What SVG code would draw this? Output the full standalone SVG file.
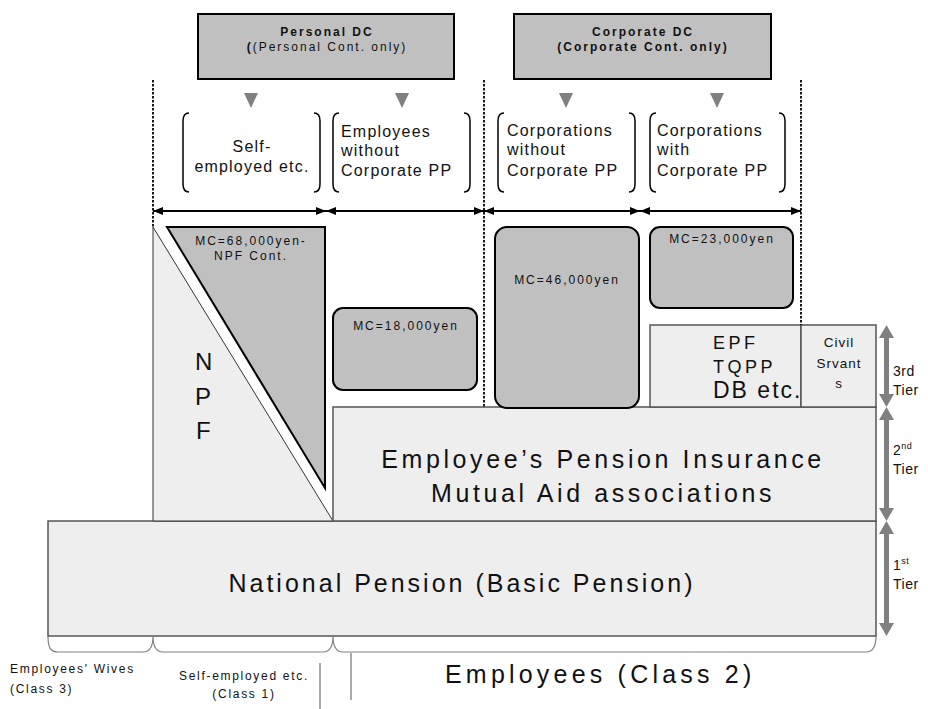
<svg xmlns="http://www.w3.org/2000/svg" width="928" height="709" viewBox="0 0 928 709">
<style>
text{font-family:"Liberation Sans",Arial,sans-serif;fill:#111}
.top{font-size:12px;letter-spacing:2px;text-anchor:middle}
.b{font-weight:bold}
.grp{font-size:16px;letter-spacing:1.2px}
.mc{font-size:12px;letter-spacing:2px;text-anchor:middle}
.big{font-size:25px;letter-spacing:3.6px;text-anchor:middle}
.small{font-size:12px;letter-spacing:1.7px}
.tier{font-size:14px;letter-spacing:0.5px}
.dark{fill:#c0c0c0;stroke:#000;stroke-width:2}
.light{fill:#eeeeee;stroke:#555;stroke-width:1.5}
.paren{fill:none;stroke:#000;stroke-width:1.5}
.dash{fill:none;stroke:#000;stroke-width:1.8;stroke-dasharray:2.5 1.5}
.harr{stroke:#000;stroke-width:2;marker-start:url(#ah);marker-end:url(#ah)}
.gray{fill:#808080}
</style>
<defs>
<marker id="ah" viewBox="0 0 10 10" refX="10" refY="5" markerWidth="10" markerHeight="10" markerUnits="userSpaceOnUse" orient="auto-start-reverse">
<path d="M0,1 L10,5 L0,9 Z" fill="#000"/>
</marker>
</defs>
<rect width="928" height="709" fill="#fff"/>

<g id="personal-dc">
<rect x="198" y="14" width="256" height="65" fill="#c0c0c0" stroke="#000" stroke-width="2"/>
<text class="top b" x="327" y="36">Personal DC</text>
<text class="top" x="327" y="51"><tspan font-weight="bold">(</tspan>(Personal Cont. only)</text>
</g>
<g id="corporate-dc">
<rect x="514" y="14" width="257" height="65" fill="#c0c0c0" stroke="#000" stroke-width="2"/>
<text class="top b" x="643" y="36">Corporate DC</text>
<text class="top b" x="643" y="51">(Corporate Cont. only)</text>
</g>

<g id="national-pension">
<rect class="light" x="48" y="521" width="828" height="115"/>
<text class="big" x="462" y="592" style="letter-spacing:3px">National Pension (Basic Pension)</text>
</g>

<g id="npf">
<path d="M153,227 L333,521 L153,521 Z" fill="#eeeeee" stroke="#333" stroke-width="1"/>
<text font-size="24" x="195" y="370">N</text>
<text font-size="24" x="195" y="405">P</text>
<text font-size="24" x="196" y="439">F</text>
</g>
<g id="mc-68000">
<path class="dark" d="M167,227 L325,227 L325,488 Z"/>
<text class="mc" x="251" y="245">MC=68,000yen-</text>
<text class="mc" x="251" y="260">NPF Cont.</text>
</g>

<g id="epi">
<rect class="light" x="333" y="407" width="543" height="114"/>
<text class="big" x="603" y="468">Employee’s Pension Insurance</text>
<text class="big" x="603" y="502">Mutual Aid associations</text>
</g>

<g id="epf">
<rect class="light" x="650" y="325" width="151" height="82"/>
<text font-size="18" letter-spacing="3.5" x="713" y="349">EPF</text>
<text font-size="18" letter-spacing="3.5" x="713" y="373">TQPP</text>
<text font-size="23" letter-spacing="2" x="713" y="398">DB etc.</text>
</g>
<g id="civil-servants">
<rect class="light" x="801" y="325" width="75" height="82"/>
<text font-size="13.5" letter-spacing="1" text-anchor="middle" x="839" y="347">Civil</text>
<text font-size="13.5" letter-spacing="1" text-anchor="middle" x="839" y="368">Srvant</text>
<text font-size="13.5" letter-spacing="1" text-anchor="middle" x="839" y="388">s</text>
</g>

<g id="mc-18000">
<rect class="dark" x="333" y="308" width="144" height="82" rx="10"/>
<text class="mc" x="406" y="330">MC=18,000yen</text>
</g>
<g id="mc-46000">
<rect class="dark" x="495" y="227" width="144" height="181" rx="12"/>
<text class="mc" x="567" y="284">MC=46,000yen</text>
</g>
<g id="mc-23000">
<rect class="dark" x="650" y="227" width="143" height="81" rx="10"/>
<text class="mc" x="722" y="243">MC=23,000yen</text>
</g>

<g id="self-employed">
<path class="paren" d="M189,113 Q183,113 183,121 V184 Q183,192 189,192"/>
<path class="paren" d="M314,113 Q320,113 320,121 V184 Q320,192 314,192"/>
<text class="grp" x="252" y="152" text-anchor="middle">Self-</text>
<text class="grp" x="252" y="172" text-anchor="middle">employed etc.</text>
</g>
<g id="employees-without">
<path class="paren" d="M339,113 Q333,113 333,121 V184 Q333,192 339,192"/>
<path class="paren" d="M464,113 Q470,113 470,121 V184 Q470,192 464,192"/>
<text class="grp" x="341" y="137">Employees</text>
<text class="grp" x="341" y="156">without</text>
<text class="grp" x="341" y="176">Corporate PP</text>
</g>
<g id="corporations-without">
<path class="paren" d="M504,113 Q498,113 498,121 V184 Q498,192 504,192"/>
<path class="paren" d="M629,113 Q635,113 635,121 V184 Q635,192 629,192"/>
<text class="grp" x="507" y="136">Corporations</text>
<text class="grp" x="507" y="155">without</text>
<text class="grp" x="507" y="176">Corporate PP</text>
</g>
<g id="corporations-with">
<path class="paren" d="M656,113 Q650,113 650,121 V184 Q650,192 656,192"/>
<path class="paren" d="M779,113 Q785,113 785,121 V184 Q785,192 779,192"/>
<text class="grp" x="657" y="136">Corporations</text>
<text class="grp" x="657" y="155">with</text>
<text class="grp" x="657" y="176">Corporate PP</text>
</g>

<g id="tiers">
<text class="tier" x="893" y="376">3rd</text>
<text class="tier" x="893" y="395">Tier</text>
<text class="tier" x="893" y="455">2<tspan font-size="9" dy="-6">nd</tspan></text>
<text class="tier" x="893" y="474">Tier</text>
<text class="tier" x="893" y="570">1<tspan font-size="9" dy="-6">st</tspan></text>
<text class="tier" x="893" y="589">Tier</text>
</g>

<g id="bottom-labels">
<text class="small" x="10" y="673">Employees' Wives</text>
<text class="small" x="10" y="693">(Class 3)</text>
<text class="small" x="244" y="680" text-anchor="middle">Self-employed etc.</text>
<text class="small" x="244" y="698" text-anchor="middle">(Class 1)</text>
<text font-size="25" letter-spacing="4.2" x="445" y="683">Employees  (Class 2)</text>
</g>

<g id="connectors">
<line class="dash" x1="153" y1="80" x2="153" y2="227"/>
<line class="dash" x1="484" y1="80" x2="484" y2="407"/>
<line class="dash" x1="801" y1="80" x2="801" y2="325"/>
<polygon class="gray" points="244,93 258,93 251,108"/>
<polygon class="gray" points="395,93 409,93 402,108"/>
<polygon class="gray" points="559,93 573,93 566,108"/>
<polygon class="gray" points="710,93 724,93 717,108"/>
<line class="harr" x1="153" y1="211" x2="326" y2="211"/>
<line class="harr" x1="326" y1="211" x2="484" y2="211"/>
<line class="harr" x1="484" y1="211" x2="640" y2="211"/>
<line class="harr" x1="640" y1="211" x2="801" y2="211"/>
<g fill="#808080">
<rect x="884" y="336" width="5" height="60"/>
<polygon points="879,338 886.5,325 894,338"/>
<polygon points="879,394 886.5,407 894,394"/>
<rect x="884" y="418" width="5" height="92"/>
<polygon points="879,420 886.5,407 894,420"/>
<polygon points="879,508 886.5,521 894,508"/>
<rect x="884" y="532" width="5" height="92"/>
<polygon points="879,534 886.5,521 894,534"/>
<polygon points="879,623 886.5,636 894,623"/>
</g>
<path d="M48,636 C48,647 50,652 58,652 H143 C150,652 153,647 153,636 C153,647 156,652 163,652 H323 C330,652 333,647 333,636 C333,647 336,652 343,652 H866 C873,652 876,647 876,636" fill="none" stroke="#808080" stroke-width="1.2"/>
<line x1="320" y1="663" x2="320" y2="709" stroke="#555" stroke-width="1"/>
<line x1="351" y1="653" x2="351" y2="700" stroke="#555" stroke-width="1"/>
</g>
</svg>
